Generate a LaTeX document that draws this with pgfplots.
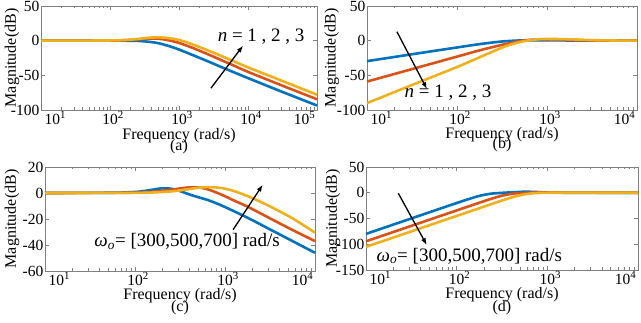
\documentclass[border=0pt]{standalone}
\usepackage{fontspec}
\setmainfont{Liberation Serif}
\usepackage{pgfplots}
\pgfplotsset{compat=1.18}
\usetikzlibrary{arrows.meta}
\definecolor{mblue}{rgb}{0,0.447,0.741}
\definecolor{mred}{rgb}{0.85,0.325,0.098}
\definecolor{myel}{rgb}{0.929,0.694,0.125}
\definecolor{fcol}{gray}{0.5}
\newcommand\tkf{\fontsize{15.5}{15.5}\selectfont}
\newcommand\labf{\fontsize{16}{16}\selectfont}
\newcommand\annf{\fontsize{19}{19}\selectfont}
\newcommand\tkmid[1]{\hphantom{\textsuperscript{#1}}10\textsuperscript{#1}}
\newcommand\edgelabels[2]{%
  \node[font=\tkf, anchor=north west, inner sep=1.5pt, xshift=2pt] at (rel axis cs:0,0) {10\textsuperscript{#1}};
  \node[font=\tkf, anchor=north east, inner sep=1.5pt] at (rel axis cs:1,0) {10\textsuperscript{#2}};}
\tikzset{myarrow/.style={-{Latex[length=7pt,width=5pt]}, line width=1.3pt, black}}
\pgfplotsset{
  /pgfplots/myax/.style={
    scale only axis, clip=false, anchor=north west,
    axis line style={fcol, line width=0.8pt},
    every tick/.style={fcol, line width=0.6pt},
    major tick length=4pt, minor tick length=2.5pt,
    tick align=inside,
    ticklabel style={font=\tkf, inner sep=1.5pt, text=black},
    label style={font=\labf},
    xlabel={Frequency (rad/s)},
    ylabel={Magnitude(dB)},
    every axis plot/.append style={line width=2.6pt, smooth, tension=0.45},
  },
}
\begin{document}
\begin{tikzpicture}
\useasboundingbox (0,0) rectangle (641pt,-323pt);
% ---------------- (a)
\begin{axis}[myax, xmode=log, at={(41pt,-6pt)}, width=276pt, height=104pt,
  xmin=10, xmax=100000, ymin=-100, ymax=50,
  xtick={10,100,1000,10000,100000},
  xticklabels={{},\tkmid{2},\tkmid{3},\tkmid{4},{}},
  minor xtick={20,30,40,50,60,70,80,90,200,300,400,500,600,700,800,900,2000,3000,4000,5000,6000,7000,8000,9000,20000,30000,40000,50000,60000,70000,80000,90000},
  ytick={-100,-50,0,50}, yticklabels={-100,-50,0,50},
  xlabel style={at={(axis description cs:0.5,-0.25)}, anchor=center},
  ylabel style={at={(axis description cs:-0.105,0.5)}, anchor=center}]
\addplot[mblue] coordinates {(10,0)(100,0)(158.5,0)(251.2,-0.3)(316.2,-1)(398.1,-2)(501.2,-3.6)(631,-6.2)(794.3,-9.3)(1000,-12.8)(1585,-20.8)(2512,-29)(3981,-37.5)(6310,-45.8)(10000,-54)(31623,-74)(100000,-93.5)};
\addplot[mred] coordinates {(10,0)(100,0.2)(199.5,1)(316.2,2.5)(398.1,3)(501.2,2.8)(631,1.5)(794.3,-0.6)(1000,-3.2)(1259,-6.8)(1585,-10.5)(2512,-18.8)(3981,-27.5)(6310,-36.2)(10000,-45)(31623,-65)(100000,-84.5)};
\addplot[myel] coordinates {(10,0)(100,0.3)(199.5,1.5)(316.2,3.5)(398.1,4.5)(501.2,4.8)(631,4.3)(794.3,3)(1000,1)(1259,-2)(1585,-5.5)(2512,-13.3)(3981,-21.5)(6310,-30)(10000,-38.5)(31623,-58.2)(100000,-78)};
\draw[myarrow] (axis cs:2900,-68.6) -- (axis cs:8500,-7);
\node[font=\annf] at (axis cs:15500,5.7) {\textit{n} = 1 , 2 , 3};
\node[font=\labf] at (axis description cs:0.5,-0.355) {(a)};
\edgelabels{1}{5}
\end{axis}
% ---------------- (b)
\begin{axis}[myax, xmode=log, at={(367pt,-6pt)}, width=270pt, height=104pt,
  xmin=10, xmax=10000, ymin=-100, ymax=50,
  xtick={10,100,1000,10000},
  xticklabels={{},\tkmid{2},\tkmid{3},{}},
  minor xtick={20,30,40,50,60,70,80,90,200,300,400,500,600,700,800,900,2000,3000,4000,5000,6000,7000,8000,9000},
  ytick={-100,-50,0,50}, yticklabels={-100,-50,0,50},
  xlabel style={at={(axis description cs:0.5,-0.242)}, anchor=center},
  ylabel style={at={(axis description cs:-0.13,0.5)}, anchor=center}]
\addplot[mblue] coordinates {(10,-29.5)(17.78,-24.6)(31.62,-19.6)(56.23,-14.7)(100,-9.8)(177.8,-5)(316.2,-1.2)(501.2,0.3)(794.3,0.6)(1259,0.4)(3162,0.1)(10000,0)};
\addplot[mred] coordinates {(10,-59)(17.78,-50)(31.62,-41)(56.23,-32)(100,-23)(177.8,-14)(316.2,-6)(501.2,-0.5)(631,1)(794.3,1.8)(1259,1.5)(1778,0.8)(3162,0.3)(10000,0)};
\addplot[myel] coordinates {(10,-90)(17.78,-77)(31.62,-64)(56.23,-51)(100,-38)(177.8,-24)(316.2,-10)(398.1,-5.5)(501.2,-2)(631,0.5)(794.3,2)(1000,2.5)(1778,2)(3162,0.8)(5623,0.2)(10000,0)};
\draw[myarrow] (axis cs:21.5,12.9) -- (axis cs:46.4,-70);
\node[font=\annf] at (axis cs:79.4,-75.7) {\textit{n} = 1 , 2 , 3};
\node[font=\labf] at (axis description cs:0.5,-0.337) {(b)};
\edgelabels{1}{4}
\end{axis}
% ---------------- (c)
\begin{axis}[myax, xmode=log, at={(45pt,-167pt)}, width=270pt, height=104pt,
  xmin=10, xmax=10000, ymin=-60, ymax=20,
  xtick={10,100,1000,10000},
  xticklabels={{},\tkmid{2},\tkmid{3},{}},
  minor xtick={20,30,40,50,60,70,80,90,200,300,400,500,600,700,800,900,2000,3000,4000,5000,6000,7000,8000,9000},
  ytick={-60,-40,-20,0,20}, yticklabels={-60,-40,-20,0,20},
  xlabel style={at={(axis description cs:0.5,-0.24)}, anchor=center},
  ylabel style={at={(axis description cs:-0.122,0.5)}, anchor=center}]
\addplot[mblue] coordinates {(10,0)(56.23,0.2)(100,0.8)(125.9,1.5)(158.5,2.6)(199.5,3.6)(251.2,3.3)(316.2,1.5)(398.1,-1)(524.8,-3.6)(631,-5.2)(794.3,-7.8)(1000,-10.8)(1778,-19)(3162,-28)(5623,-37)(10000,-46)};
\addplot[mred] coordinates {(10,0)(56.23,0.1)(100,0.3)(158.5,1)(251.2,2.5)(316.2,3.5)(398.1,4.3)(501.2,4.3)(631,3)(794.3,0.5)(1000,-2.5)(1259,-5.8)(1778,-10.5)(3162,-19.5)(5623,-28.5)(10000,-37)};
\addplot[myel] coordinates {(10,0)(100,0.1)(158.5,0.4)(251.2,1.2)(316.2,2)(398.1,3)(501.2,4)(631,4.5)(794.3,4.3)(1000,3.3)(1259,1.5)(1585,-1)(1995,-3.8)(2512,-7)(3162,-10.3)(5623,-19.5)(10000,-30.5)};
\draw[myarrow] (axis cs:1230,-28.2) -- (axis cs:2630,6.4);
\node[font=\annf] at (axis cs:380,-37.5) {\textit{ω}\textsubscript{\textit{o}}= [300,500,700] rad/s};
\node[font=\labf] at (axis description cs:0.5,-0.356) {(c)};
\edgelabels{1}{4}
\end{axis}
% ---------------- (d)
\begin{axis}[myax, xmode=log, at={(366pt,-167pt)}, width=272pt, height=103pt,
  xmin=10, xmax=10000, ymin=-150, ymax=50,
  xtick={10,100,1000,10000},
  xticklabels={{},\tkmid{2},\tkmid{3},{}},
  minor xtick={20,30,40,50,60,70,80,90,200,300,400,500,600,700,800,900,2000,3000,4000,5000,6000,7000,8000,9000},
  ytick={-150,-100,-50,0,50}, yticklabels={-150,-100,-50,0,50},
  xlabel style={at={(axis description cs:0.5,-0.243)}, anchor=center},
  ylabel style={at={(axis description cs:-0.121,0.5)}, anchor=center}]
\addplot[mblue] coordinates {(10,-79.9)(17.78,-64.9)(31.62,-49.9)(56.23,-34.9)(100,-19.9)(133.4,-12.7)(177.8,-6.1)(237.1,-1.9)(316.2,-0.2)(421.7,1)(562.3,2)(749.9,1.5)(1000,0.5)(1778,0)(10000,0)};
\addplot[mred] coordinates {(10,-94.3)(17.78,-79.3)(31.62,-64.3)(56.23,-49.3)(100,-34.3)(133.4,-26.8)(177.8,-19.4)(237.1,-12.1)(316.2,-5.7)(421.7,-1.7)(562.3,-0.2)(749.9,0.6)(1000,0.8)(1778,0.2)(10000,0)};
\addplot[myel] coordinates {(10,-105)(17.78,-90)(31.62,-75)(56.23,-60)(100,-45)(133.4,-37.5)(177.8,-30)(237.1,-22.5)(316.2,-15.1)(421.7,-8.2)(562.3,-3)(749.9,-0.7)(1000,-0.1)(1778,0)(10000,0)};
\draw[myarrow] (axis cs:22.7,-1) -- (axis cs:46.8,-101.6);
\node[font=\annf] at (axis cs:138,-122.8) {\textit{ω}\textsubscript{\textit{o}}= [300,500,700] rad/s};
\node[font=\labf] at (axis description cs:0.5,-0.369) {(d)};
\edgelabels{1}{4}
\end{axis}
\end{tikzpicture}
\end{document}
